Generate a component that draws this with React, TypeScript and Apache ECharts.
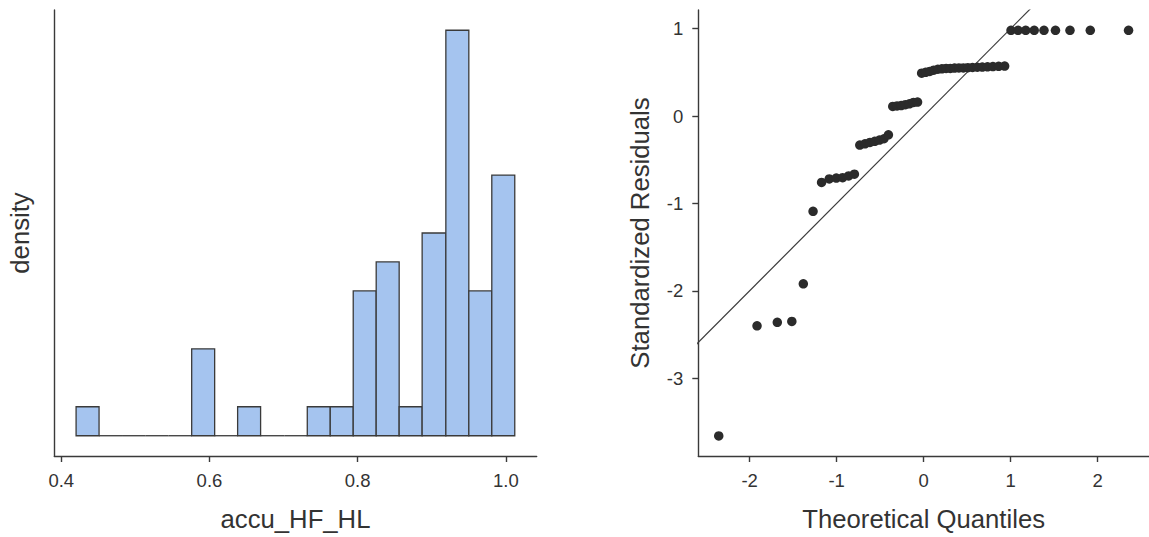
import React, { useEffect, useRef } from "react";
import * as echarts from "echarts";

// Histogram of accu_HF_HL: bin edges and counts per bin
const binEdges = [
  0.420, 0.451, 0.482, 0.514, 0.545, 0.576, 0.607, 0.638, 0.669, 0.701,
  0.732, 0.763, 0.794, 0.825, 0.856, 0.887, 0.919, 0.950, 0.981, 1.012,
];
const binCounts = [1, 0, 0, 0, 0, 3, 0, 1, 0, 0, 1, 1, 5, 6, 1, 7, 14, 5, 9];
const histTicks = [0.4, 0.6, 0.8, 1.0];

// Q-Q plot: theoretical normal quantiles and standardized residuals (n = 54)
const theoreticalQuantiles = [
  -2.355, -1.915, -1.682, -1.515, -1.383, -1.271, -1.173, -1.085, -1.004, -0.931,
  -0.862, -0.796, -0.734, -0.674, -0.617, -0.562, -0.508, -0.456, -0.405, -0.355,
  -0.306, -0.258, -0.210, -0.163, -0.116, -0.070, -0.023, 0.023, 0.070, 0.116,
  0.163, 0.210, 0.258, 0.306, 0.355, 0.405, 0.456, 0.508, 0.562, 0.617,
  0.674, 0.734, 0.796, 0.862, 0.931, 1.004, 1.085, 1.173, 1.271, 1.383,
  1.515, 1.682, 1.915, 2.355,
];
const standardizedResiduals = [
  -3.66, -2.40, -2.36, -2.35, -1.92, -1.09, -0.76, -0.72, -0.71, -0.705,
  -0.685, -0.665, -0.332, -0.318, -0.302, -0.29, -0.275, -0.26, -0.215, 0.11,
  0.115, 0.12, 0.13, 0.14, 0.155, 0.16, 0.49, 0.50, 0.51, 0.525,
  0.535, 0.54, 0.545, 0.545, 0.548, 0.55, 0.55, 0.553, 0.555, 0.558,
  0.56, 0.563, 0.566, 0.568, 0.571, 0.98, 0.98, 0.98, 0.98, 0.98,
  0.98, 0.98, 0.98, 0.98,
];
const qqXTicks = [-2, -1, 0, 1, 2];
const qqYTicks = [-3, -2, -1, 0, 1];
// identity reference line y = x
const referenceLine = [
  [-3, -3],
  [2, 2],
];

const FONT = "'Liberation Sans', Arial, Helvetica, sans-serif";
const INK = "#333333";
const AXIS_LINE = { show: true, onZero: false, lineStyle: { color: "#3a3a3a", width: 1.4 } };
const TITLE_STYLE = { fontSize: 25.7, color: INK, fontFamily: FONT };
const LABEL_STYLE = { fontSize: 18.5, color: INK, fontFamily: FONT };

export default function App() {
  const ref = useRef<HTMLDivElement>(null);

  useEffect(() => {
    if (!ref.current) return;
    const chart = echarts.init(ref.current, null, { renderer: "svg" });

    const bins = binCounts.map((c, i) => [binEdges[i], binEdges[i + 1], c]);
    const points = theoreticalQuantiles.map((q, i) => [q, standardizedResiduals[i]]);

    chart.setOption({
      animation: false,
      textStyle: { fontFamily: FONT },
      grid: [
        { left: 54.3, top: 10, width: 482.4, height: 446 },
        { left: 698.3, top: 10, width: 455.1, height: 446.7 },
      ],
      xAxis: [
        {
          gridIndex: 0,
          type: "value",
          min: 0.3906,
          max: 1.0416,
          name: "accu_HF_HL",
          nameLocation: "middle",
          nameGap: 50,
          nameTextStyle: TITLE_STYLE,
          axisLine: AXIS_LINE,
          axisTick: {
            show: true,
            customValues: histTicks,
            length: 6,
            lineStyle: { color: "#3a3a3a", width: 1.4 },
          },
          axisLabel: {
            customValues: histTicks,
            formatter: (v: number) => v.toFixed(1),
            margin: 15,
            ...LABEL_STYLE,
          },
          splitLine: { show: false },
        },
        {
          gridIndex: 1,
          type: "value",
          min: -2.59,
          max: 2.59,
          name: "Theoretical Quantiles",
          nameLocation: "middle",
          nameGap: 50,
          nameTextStyle: TITLE_STYLE,
          axisLine: AXIS_LINE,
          axisTick: {
            show: true,
            customValues: qqXTicks,
            length: 6,
            lineStyle: { color: "#3a3a3a", width: 1.4 },
          },
          axisLabel: { customValues: qqXTicks, margin: 15, ...LABEL_STYLE },
          splitLine: { show: false },
        },
      ],
      yAxis: [
        {
          gridIndex: 0,
          type: "value",
          min: -0.7,
          max: 14.7,
          name: "density",
          nameLocation: "middle",
          nameGap: 21,
          nameTextStyle: TITLE_STYLE,
          axisLine: AXIS_LINE,
          axisTick: { show: false },
          axisLabel: { show: false },
          splitLine: { show: false },
        },
        {
          gridIndex: 1,
          type: "value",
          min: -3.89,
          max: 1.213,
          name: "Standardized Residuals",
          nameLocation: "middle",
          nameGap: 45,
          nameTextStyle: TITLE_STYLE,
          axisLine: AXIS_LINE,
          axisTick: {
            show: true,
            customValues: qqYTicks,
            length: 6,
            lineStyle: { color: "#3a3a3a", width: 1.4 },
          },
          axisLabel: { customValues: qqYTicks, margin: 15, ...LABEL_STYLE },
          splitLine: { show: false },
        },
      ],
      series: [
        {
          type: "custom",
          xAxisIndex: 0,
          yAxisIndex: 0,
          encode: { x: [0, 1], y: 2 },
          data: bins,
          renderItem: (_params: any, api: any) => {
            const x0 = api.value(0);
            const x1 = api.value(1);
            const c = api.value(2);
            const top = api.coord([x0, c]);
            const base = api.coord([x1, 0]);
            if (c === 0) {
              return {
                type: "line",
                shape: { x1: top[0], y1: base[1], x2: base[0], y2: base[1] },
                style: { stroke: "#3a3a3a", lineWidth: 1.3 },
              };
            }
            return {
              type: "rect",
              shape: {
                x: top[0],
                y: top[1],
                width: base[0] - top[0],
                height: base[1] - top[1],
              },
              style: { fill: "#a5c4ef", stroke: "#3a3a3a", lineWidth: 1.3 },
            };
          },
        },
        {
          type: "line",
          xAxisIndex: 1,
          yAxisIndex: 1,
          data: referenceLine,
          symbol: "none",
          clip: true,
          lineStyle: { color: "#3a3a3a", width: 1.2 },
          z: 1,
        },
        {
          type: "scatter",
          xAxisIndex: 1,
          yAxisIndex: 1,
          data: points,
          symbolSize: 9.5,
          itemStyle: { color: "#2b2b2b", opacity: 1 },
          z: 2,
        },
      ],
    });

    return () => chart.dispose();
  }, []);

  return (
    <div
      ref={ref}
      style={{ position: "fixed", left: 0, top: 0, width: 1149, height: 537, background: "#fff" }}
    />
  );
}
